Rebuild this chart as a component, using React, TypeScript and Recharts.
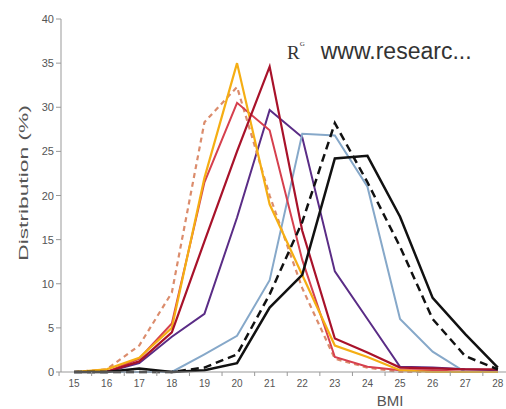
import React from 'react';
import { LineChart, Line, XAxis, YAxis } from 'recharts';

const bmi = [15, 16, 17, 18, 19, 20, 21, 22, 23, 24, 25, 26, 27, 28];
const gold = [0, 0.3, 1.6, 5, 22, 35, 19, 11, 3, 1.7, 0.2, 0, 0, 0];
const salmonDashed = [0, 0.3, 3, 9, 28.3, 32.3, 20, 9.5, 1.5, 0.5, 0, 0, 0, 0];
const crimson = [0, 0, 1.5, 5.5, 21.5, 30.5, 27.4, 12.7, 1.7, 0.6, 0.2, 0.2, 0, 0];
const darkRed = [0, 0, 1.2, 4.5, 14.8, 25, 34.6, 16, 3.8, 2.2, 0.5, 0.4, 0.3, 0.3];
const purple = [0, 0, 1, 4, 6.6, 17.5, 29.7, 26.6, 11.4, 6, 0.6, 0.5, 0.3, 0.2];
const lightBlue = [0, 0, 0, 0, 2, 4.1, 10.4, 27, 26.8, 21, 6, 2.3, 0, 0];
const blackDashed = [0, 0, 0, 0, 0.5, 2, 8.8, 17, 28.2, 21.5, 14.2, 6, 1.8, 0.3];
const blackSolid = [0, 0, 0.4, 0, 0.2, 1, 7.3, 11, 24.2, 24.5, 17.6, 8.4, 4.3, 0.5];

const xTicks = bmi;
const yTicks = [0, 5, 10, 15, 20, 25, 30, 35, 40];

const rows = bmi.map((b, i) => ({
  bmi: b,
  gold: gold[i],
  salmonDashed: salmonDashed[i],
  crimson: crimson[i],
  darkRed: darkRed[i],
  purple: purple[i],
  lightBlue: lightBlue[i],
  blackDashed: blackDashed[i],
  blackSolid: blackSolid[i],
}));

const FONT = '"Liberation Sans", Arial, sans-serif';

const XTick = (props: any) => {
  const { x, y, payload } = props;
  return (
    <g>
      <line x1={x - 15} y1={y} x2={x - 15} y2={y + 4} stroke="#999" strokeWidth={1} />
      <text x={x} y={y + 15} textAnchor="middle" fontSize={10} fill="#555" fontFamily={FONT}>
        {payload.value}
      </text>
    </g>
  );
};

const YTick = (props: any) => {
  const { x, y, payload } = props;
  return (
    <text x={x} y={y + 4} textAnchor="end" fontSize={11} fill="#555" fontFamily={FONT}>
      {payload.value}
    </text>
  );
};

export default function App() {
  return (
    <div style={{ position: 'absolute', left: 0, top: 0, width: 506, height: 409, background: '#fff', overflow: 'hidden' }}>
      <LineChart width={506} height={409} data={rows} margin={{ top: 19, right: 0, bottom: 7, left: 11 }}>
        <XAxis
          dataKey="bmi"
          type="number"
          domain={[14.6, 28.25]}
          ticks={xTicks}
          allowDataOverflow
          height={30}
          tickSize={0}
          tickMargin={0}
          tick={<XTick />}
          axisLine={{ stroke: '#999' }}
          tickLine={false}
        />
        <YAxis
          domain={[0, 40]}
          ticks={yTicks}
          width={50}
          tickSize={5}
          tickMargin={2}
          tick={<YTick />}
          axisLine={{ stroke: '#999' }}
          tickLine={{ stroke: '#999' }}
        />
        <Line type="linear" dataKey="purple" stroke="#5A2C86" strokeWidth={2} dot={false} isAnimationActive={false} />
        <Line type="linear" dataKey="lightBlue" stroke="#86A8C9" strokeWidth={2} dot={false} isAnimationActive={false} />
        <Line type="linear" dataKey="salmonDashed" stroke="#DB8C6C" strokeWidth={2.2} strokeDasharray="5 4" dot={false} isAnimationActive={false} />
        <Line type="linear" dataKey="crimson" stroke="#D6404E" strokeWidth={2} dot={false} isAnimationActive={false} />
        <Line type="linear" dataKey="gold" stroke="#F5AE14" strokeWidth={2.2} dot={false} isAnimationActive={false} />
        <Line type="linear" dataKey="darkRed" stroke="#A8122A" strokeWidth={2.2} dot={false} isAnimationActive={false} />
        <Line type="linear" dataKey="blackDashed" stroke="#111" strokeWidth={2.5} strokeDasharray="8 5" dot={false} isAnimationActive={false} />
        <Line type="linear" dataKey="blackSolid" stroke="#111" strokeWidth={2.5} dot={false} isAnimationActive={false} />
      </LineChart>
      <div
        style={{
          position: 'absolute', left: 23, top: 183, fontFamily: FONT, fontSize: 13, color: '#555',
          whiteSpace: 'nowrap', transform: 'translate(-50%, -50%) rotate(-90deg) scaleX(1.75)', lineHeight: 1,
        }}
      >
        Distribution (%)
      </div>
      <div
        style={{
          position: 'absolute', left: 390, top: 393, fontFamily: FONT, fontSize: 15, color: '#555',
          whiteSpace: 'nowrap', transform: 'translateX(-50%)', lineHeight: 1,
        }}
      >
        BMI
      </div>
      <div style={{ position: 'absolute', left: 287, top: 40, whiteSpace: 'nowrap', lineHeight: 1, color: '#333' }}>
        <span style={{ fontFamily: '"Liberation Serif", serif', fontSize: 19 }}>R</span>
        <span style={{ fontFamily: '"Liberation Serif", serif', fontSize: 7, verticalAlign: 'top', position: 'relative', top: 1 }}>G</span>
        <span style={{ fontFamily: FONT, fontSize: 23, marginLeft: 16 }}>www.researc...</span>
      </div>
    </div>
  );
}
